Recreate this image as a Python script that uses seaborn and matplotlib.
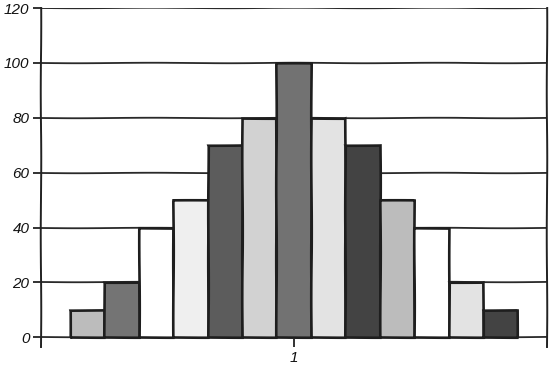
import matplotlib
matplotlib.use("Agg")
import matplotlib.pyplot as plt
import seaborn as sns
import pandas as pd
import numpy as np

# Data
categories = ["1"] * 13
groups = ["g1", "g2", "g3", "g4", "g5", "g6", "g7", "g8", "g9", "g10", "g11", "g12", "g13"]
values = [10, 20, 40, 50, 70, 80, 100, 80, 70, 50, 40, 20, 10]
colors = ["#bcbcbc", "#747474", "#ffffff", "#efefef", "#5c5c5c", "#d2d2d2", "#727272",
          "#e3e3e3", "#434343", "#bcbcbc", "#ffffff", "#e3e3e3", "#434343"]
yticks = [0, 20, 40, 60, 80, 100, 120]

sns.set_theme(style="white")
plt.rcParams["font.family"] = ["Liberation Sans", "DejaVu Sans"]
plt.rcParams["path.sketch"] = (0.25, 160, 2)

df = pd.DataFrame({"x": categories, "group": groups, "value": values})

fig = plt.figure(figsize=(5.49, 3.66), dpi=100)
ax = fig.add_axes([0.074, 0.052, 0.9218, 0.926])

sns.barplot(data=df, x="x", y="value", hue="group", palette=dict(zip(groups, colors)),
            width=0.884, edgecolor="#1e1e1e", linewidth=1.9, legend=False, ax=ax,
            zorder=3)

ax.set_ylim(-3.5, 120)
ax.set_xlim(-0.5, 0.5)
ax.set_yticks(yticks)
ax.set_yticklabels([str(t) for t in yticks], fontsize=11, style="italic")
ax.set_xticks([0])
ax.set_xticklabels(["1"], fontsize=11, style="italic")
ax.set_xlabel("")
ax.set_ylabel("")

ax.yaxis.grid(True, color="#2a2a2a", linewidth=1.3, zorder=0)
ax.set_axisbelow(True)
ax.xaxis.grid(False)

for s in ["left", "right"]:
    ax.spines[s].set_visible(True)
    ax.spines[s].set_color("#222222")
    ax.spines[s].set_linewidth(1.4)
ax.spines["top"].set_visible(False)
ax.spines["bottom"].set_visible(False)

ax.tick_params(axis="y", which="major", left=True, direction="out", length=6,
               width=1.3, color="#222222", pad=2, labelcolor="#111111")
ax.tick_params(axis="x", which="major", bottom=True, direction="in", length=6,
               width=1.3, color="#222222", pad=3, labelcolor="#111111")

fig.savefig("out.png", dpi=100)
